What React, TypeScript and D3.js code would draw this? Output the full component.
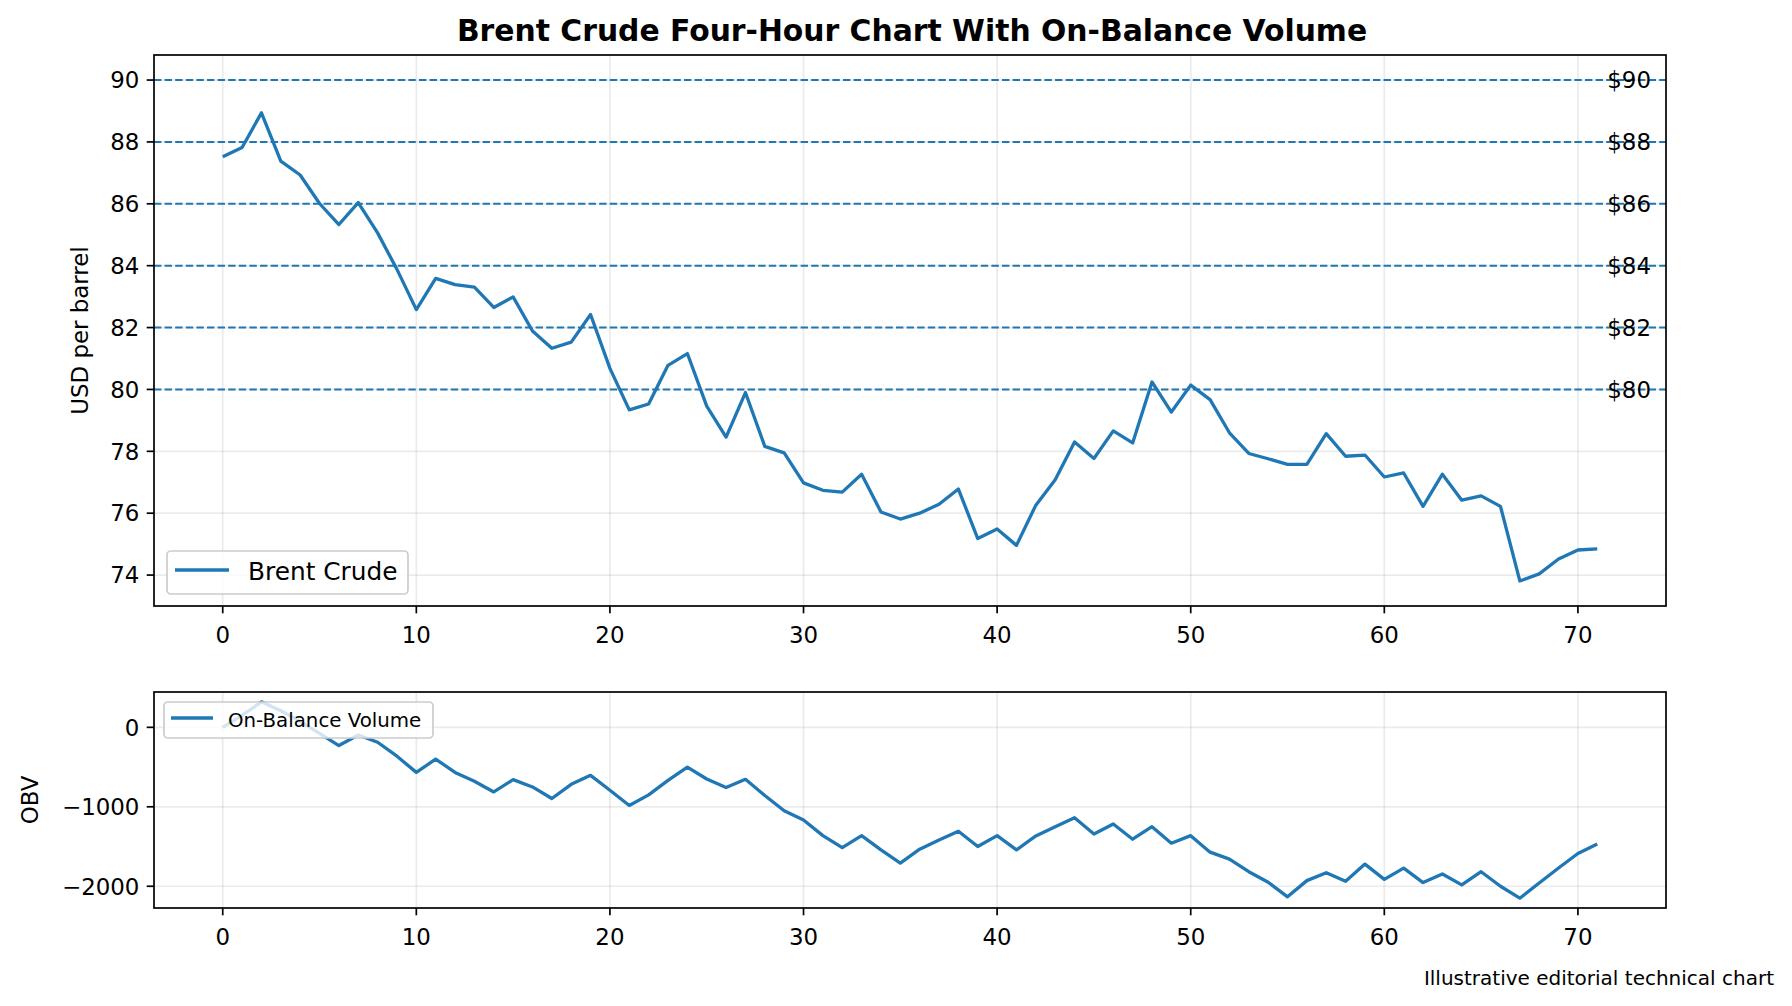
import React, { useEffect, useRef } from "react";
import * as d3 from "d3";

const price = [
    87.52, 87.82, 88.94, 87.38, 86.93, 86.01, 85.33, 86.04, 85.06, 83.88,
    82.58, 83.59, 83.39, 83.31, 82.65, 82.99, 81.89, 81.33, 81.53, 82.42,
    80.68, 79.34, 79.53, 80.78, 81.16, 79.46, 78.46, 79.9, 78.16, 77.95,
    76.98, 76.74, 76.68, 77.26, 76.04, 75.81, 76.0, 76.29, 76.78, 75.18,
    75.49, 74.96, 76.26, 77.08, 78.3, 77.77, 78.66, 78.27, 80.24, 79.27,
    80.14, 79.67, 78.6, 77.93, 77.76, 77.58, 77.58, 78.57, 77.84, 77.88,
    77.17, 77.3, 76.22, 77.26, 76.42, 76.56, 76.22, 73.81, 74.04, 74.52,
    74.81, 74.85,
];

const obv = [
    0, 150, 321, 208, 75, -75, -229, -96, -188, -363,
    -567, -400, -567, -679, -813, -658, -750, -896, -717, -604,
    -792, -983, -850, -667, -500, -650, -758, -654, -858, -1050,
    -1167, -1363, -1513, -1363, -1542, -1708, -1533, -1417, -1308, -1500,
    -1363, -1542, -1367, -1250, -1138, -1342, -1217, -1408, -1250, -1458,
    -1363, -1571, -1658, -1817, -1950, -2133, -1929, -1829, -1938, -1721,
    -1913, -1771, -1954, -1846, -1983, -1817, -2000, -2150, -1958, -1771,
    -1588, -1467,
];

const levels = [80, 82, 84, 86, 88, 90];
const priceTicks = [74, 76, 78, 80, 82, 84, 86, 88, 90];
const obvTicks = [-2000, -1000, 0];
const xTicks = [0, 10, 20, 30, 40, 50, 60, 70];

const W = 1792;
const H = 1006;
const blue = "#1f77b4";
const font = "DejaVu Sans, sans-serif";
const tickSize = 22.9;
const lw = 3.3;

// pad a [min,max] extent by 5% like matplotlib does
const pad = (ext: number[]) => {
    const m = (ext[1] - ext[0]) * 0.05;
    return [ext[0] - m, ext[1] + m];
};
const minus = (v: number) => String(v).replace("-", "\u2212");

export default function App() {
    const ref = useRef<SVGSVGElement>(null);

    useEffect(() => {
        const svg = d3.select(ref.current);
        svg.selectAll("*").remove();

        const idx = price.map((_, i) => i);
        const x = d3.scaleLinear().domain(pad([0, price.length - 1])).range([154, 1666]);

        const panel = (
            top: number,
            bottom: number,
            yDomain: number[],
            yTicks: number[],
        ) => {
            const y = d3.scaleLinear().domain(yDomain).range([bottom, top]);
            const g = svg.append("g");
            // grid
            g.selectAll(".gx").data(xTicks).join("line")
                .attr("x1", d => x(d)).attr("x2", d => x(d))
                .attr("y1", top).attr("y2", bottom)
                .attr("stroke", "#b0b0b0").attr("stroke-opacity", 0.25).attr("stroke-width", 1.7);
            g.selectAll(".gy").data(yTicks).join("line")
                .attr("x1", 154).attr("x2", 1666)
                .attr("y1", d => y(d)).attr("y2", d => y(d))
                .attr("stroke", "#b0b0b0").attr("stroke-opacity", 0.25).attr("stroke-width", 1.7);
            const line = d3.line<number>()
                .x((_, i) => x(idx[i]))
                .y(d => y(d));
            // ticks
            g.selectAll(".tx").data(xTicks).join("line")
                .attr("x1", d => x(d)).attr("x2", d => x(d))
                .attr("y1", bottom).attr("y2", bottom + 7.3)
                .attr("stroke", "#000").attr("stroke-width", 1.7);
            g.selectAll(".lx").data(xTicks).join("text")
                .attr("x", d => x(d)).attr("y", bottom + 36.5)
                .attr("text-anchor", "middle")
                .attr("font-size", tickSize).attr("font-family", font)
                .text(d => d);
            g.selectAll(".ty").data(yTicks).join("line")
                .attr("x1", 154 - 7.3).attr("x2", 154)
                .attr("y1", d => y(d)).attr("y2", d => y(d))
                .attr("stroke", "#000").attr("stroke-width", 1.7);
            g.selectAll(".ly").data(yTicks).join("text")
                .attr("x", 154 - 14.6).attr("y", d => y(d) + 8.3)
                .attr("text-anchor", "end")
                .attr("font-size", tickSize).attr("font-family", font)
                .text(d => minus(d));
            return { g, y, line };
        };

        // upper panel: price
        const up = panel(55, 606, pad([d3.min(price) as number, d3.max(levels) as number]), priceTicks);
        up.g.selectAll(".lev").data(levels).join("line")
            .attr("x1", 154).attr("x2", 1666)
            .attr("y1", d => up.y(d)).attr("y2", d => up.y(d))
            .attr("stroke", blue).attr("stroke-width", 2)
            .attr("stroke-dasharray", "7.4 3.2");
        up.g.append("path")
            .attr("d", up.line(price))
            .attr("fill", "none").attr("stroke", blue)
            .attr("stroke-width", lw).attr("stroke-linejoin", "round");
        up.g.selectAll(".levl").data(levels).join("text")
            .attr("x", 1651).attr("y", d => up.y(d) + 8.3)
            .attr("text-anchor", "end")
            .attr("font-size", tickSize).attr("font-family", font)
            .text(d => "$" + d);
        // legend
        up.g.append("rect")
            .attr("x", 167).attr("y", 551).attr("width", 241).attr("height", 43)
            .attr("rx", 4).attr("fill", "white").attr("fill-opacity", 0.8)
            .attr("stroke", "#cccccc").attr("stroke-width", 1.7);
        up.g.append("line")
            .attr("x1", 175).attr("x2", 229).attr("y1", 570).attr("y2", 570)
            .attr("stroke", blue).attr("stroke-width", lw);
        up.g.append("text")
            .attr("x", 248).attr("y", 579.5)
            .attr("font-size", 24.8).attr("font-family", font)
            .text("Brent Crude");
        up.g.append("rect")
            .attr("x", 154).attr("y", 55).attr("width", 1512).attr("height", 551)
            .attr("fill", "none").attr("stroke", "#000").attr("stroke-width", 1.7);

        // lower panel: OBV
        const lo = panel(692, 908, pad(d3.extent(obv) as number[]), obvTicks);
        lo.g.append("path")
            .attr("d", lo.line(obv))
            .attr("fill", "none").attr("stroke", blue)
            .attr("stroke-width", lw).attr("stroke-linejoin", "round");
        lo.g.append("rect")
            .attr("x", 164).attr("y", 702).attr("width", 269).attr("height", 36)
            .attr("rx", 4).attr("fill", "white").attr("fill-opacity", 0.8)
            .attr("stroke", "#cccccc").attr("stroke-width", 1.7);
        lo.g.append("line")
            .attr("x1", 171).attr("x2", 213).attr("y1", 718).attr("y2", 718)
            .attr("stroke", blue).attr("stroke-width", lw);
        lo.g.append("text")
            .attr("x", 228).attr("y", 726.5)
            .attr("font-size", 19.8).attr("font-family", font)
            .text("On-Balance Volume");
        lo.g.append("rect")
            .attr("x", 154).attr("y", 692).attr("width", 1512).attr("height", 216)
            .attr("fill", "none").attr("stroke", "#000").attr("stroke-width", 1.7);

        // labels
        svg.append("text")
            .attr("x", 912).attr("y", 41)
            .attr("text-anchor", "middle")
            .attr("font-size", 29.8).attr("font-weight", "bold").attr("font-family", font)
            .text("Brent Crude Four-Hour Chart With On-Balance Volume");
        svg.append("text")
            .attr("transform", "translate(88,330.5) rotate(-90)")
            .attr("text-anchor", "middle")
            .attr("font-size", tickSize).attr("font-family", font)
            .text("USD per barrel");
        svg.append("text")
            .attr("transform", "translate(38,800) rotate(-90)")
            .attr("text-anchor", "middle")
            .attr("font-size", tickSize).attr("font-family", font)
            .text("OBV");
        svg.append("text")
            .attr("x", 1774).attr("y", 985)
            .attr("text-anchor", "end")
            .attr("font-size", 20).attr("font-family", font)
            .text("Illustrative editorial technical chart");
    }, []);

    return (
        <svg
            ref={ref}
            width={W}
            height={H}
            viewBox={`0 0 ${W} ${H}`}
            style={{ position: "absolute", left: 0, top: 0, background: "white" }}
        />
    );
}
